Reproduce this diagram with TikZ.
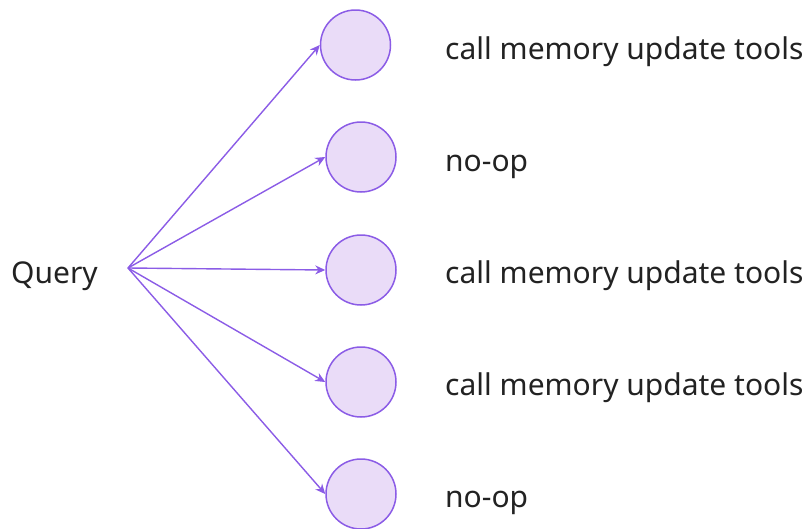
\documentclass[tikz,border=0pt]{standalone}
\usepackage{fontspec}
\setmainfont{Noto Sans}
\usetikzlibrary{arrows.meta, positioning}
\definecolor{QueryPurple}{HTML}{8B5CE6}
\definecolor{QueryLavender}{HTML}{EADCF8}
\definecolor{QueryText}{HTML}{222222}
\tikzset{
    % Circle nodes for the outcomes
    outcome/.style={
        circle,
        draw=QueryPurple,
        fill=QueryLavender,
        line width=1.5pt,
        minimum size=70pt,
        inner sep=0pt
    },
    label text/.style={
        anchor=base west,
        text=QueryText,
        font=\fontsize{30}{35}\selectfont,
        inner sep=0pt
    },
    arrow style/.style={
        -{Stealth[length=10pt, width=9pt]},
        line width=1.4pt,
        QueryPurple
    }
}
\begin{document}
\begin{tikzpicture}[x=1pt, y=-1pt]
        \useasboundingbox (0,0) rectangle (811,528);

        % Source
        \node[label text] (query) at (11, 283) {Query};
        \coordinate (src) at (128, 268);

        % Outcomes
        \node[outcome] (c1) at (355.5, 45) {};
        \node[outcome] (c2) at (361, 157) {};
        \node[outcome] (c3) at (361, 270) {};
        \node[outcome] (c4) at (361, 382) {};
        \node[outcome] (c5) at (361, 494) {};

        % Labels
        \node[label text] (t1) at (445, 59) {call memory update tools};
        \node[label text] (t2) at (445, 171) {no-op};
        \node[label text] (t3) at (445, 283) {call memory update tools};
        \node[label text] (t4) at (445, 395) {call memory update tools};
        \node[label text] (t5) at (445, 507) {no-op};

        % Arrows
        \foreach \i in {1,...,5}
            \draw[arrow style] (src) -- (c\i.west);
    \end{tikzpicture}
\end{document}
